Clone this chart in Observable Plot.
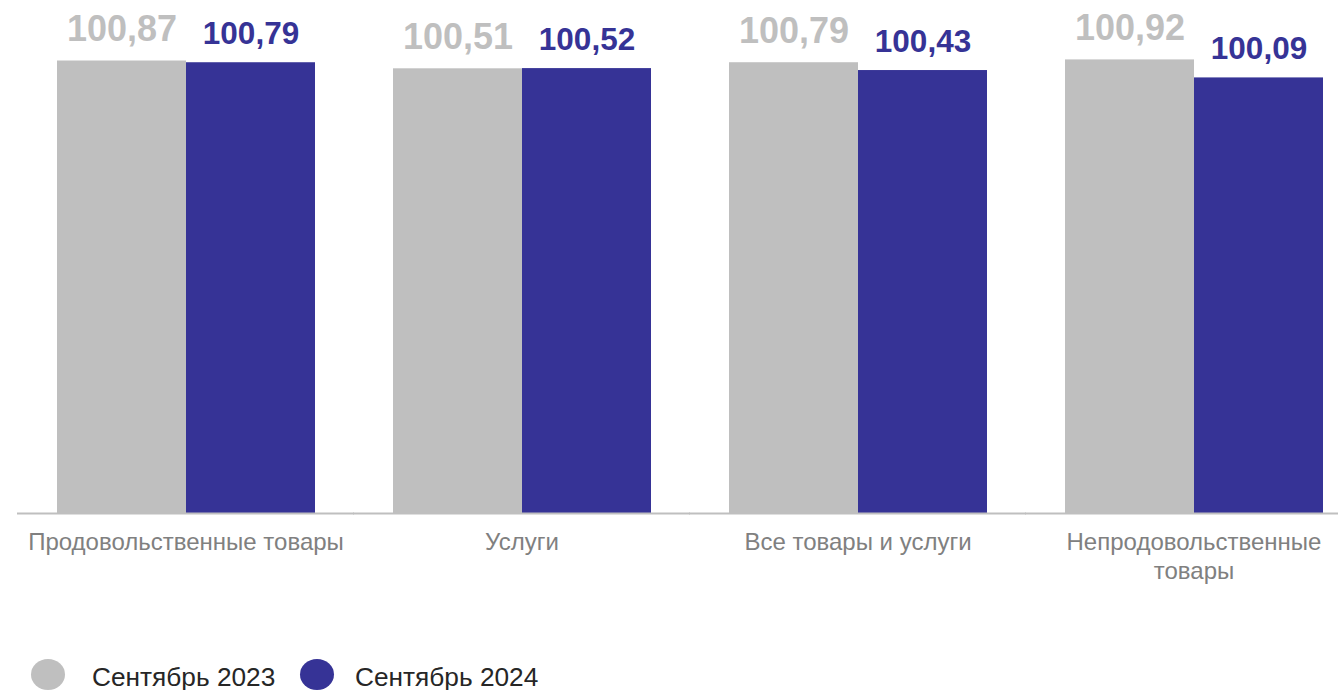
<!DOCTYPE html>
<html><head><meta charset="utf-8">
<script src="https://cdn.jsdelivr.net/npm/d3@7"></script>
<script src="https://cdn.jsdelivr.net/npm/@observablehq/plot@0.6"></script>
<style>
body{margin:0;background:#fff;font-family:"Liberation Sans",Arial,sans-serif;}
#wrap{position:relative;width:1338px;height:690px;overflow:hidden;}
#chart{position:absolute;left:0;top:0;}
.leg{position:absolute;font-size:25px;line-height:25px;color:#262626;white-space:nowrap;transform:scaleX(1.05);transform-origin:left center;}
.dot{position:absolute;width:34px;height:31px;border-radius:50%;}
</style></head>
<body><div id="wrap"><div id="chart"></div><div id="legend"></div></div>
<script>
const categories = ["Продовольственные товары", "Услуги", "Все товары и услуги", "Непродовольственные товары"];
const categoryLabels = ["Продовольственные товары", "Услуги", "Все товары и услуги", "Непродовольственные\nтовары"];
const seriesNames = ["Сентябрь 2023", "Сентябрь 2024"];
const values2023 = [100.87, 100.51, 100.79, 100.92];
const values2024 = [100.79, 100.52, 100.43, 100.09];
const colors = ["#bfbfbf", "#363396"];

const data = [];
categories.forEach((c, i) => {
  data.push({cat: c, series: seriesNames[0], value: values2023[i]});
  data.push({cat: c, series: seriesNames[1], value: values2024[i]});
});
const fmt = v => v.toFixed(2).replace(".", ",");
const labelMap = new Map(categories.map((c, i) => [c, categoryLabels[i]]));

const chart = Plot.plot({
  width: 1338,
  height: 620,
  marginLeft: 18,
  marginRight: 0,
  marginTop: 36,
  marginBottom: 107,
  style: {fontFamily: "Liberation Sans, Arial, sans-serif", background: "#fff"},
  fx: {domain: categories, range: [18, 1362], paddingInner: 0.229, paddingOuter: 0.1145, label: null},
  x: {domain: seriesNames, padding: 0, axis: null},
  y: {domain: [80, 102], axis: null},
  color: {domain: seriesNames, range: colors},
  marks: [
    Plot.barY(data, {fx: "cat", x: "series", y1: 80, y2: "value", fill: "series", inset: 0}),
    Plot.ruleY(categories, {fx: d => d, y: 80, stroke: "#bfbfbf", strokeWidth: 2, insetLeft: -39, insetRight: -39}),
    Plot.text(data.filter(d => d.series === seriesNames[0]), {
      fx: "cat", x: "series", y: "value", text: d => fmt(d.value),
      fill: colors[0], fontSize: 36, fontWeight: "bold", lineAnchor: "bottom", dy: -20
    }),
    Plot.text(data.filter(d => d.series === seriesNames[1]), {
      fx: "cat", x: "series", y: "value", text: d => fmt(d.value),
      fill: colors[1], fontSize: 31.5, fontWeight: "bold", lineAnchor: "bottom", dy: -19
    }),
    Plot.axisFx({anchor: "bottom", tickSize: 0, tickPadding: 16, fontSize: 24, fill: "#808080",
      lineHeight: 1.2, tickFormat: d => labelMap.get(d), label: null})
  ]
});
document.getElementById("chart").appendChild(chart);

const legend = document.getElementById("legend");
const legPos = [{dot: 31, text: 92}, {dot: 300, text: 355}];
seriesNames.forEach((s, i) => {
  const dot = document.createElement("span");
  dot.className = "dot";
  dot.style.left = legPos[i].dot + "px";
  dot.style.top = "659px";
  dot.style.background = colors[i];
  legend.appendChild(dot);
  const t = document.createElement("span");
  t.className = "leg";
  t.style.left = legPos[i].text + "px";
  t.style.top = "665px";
  t.textContent = s;
  legend.appendChild(t);
});
</script></body></html>
